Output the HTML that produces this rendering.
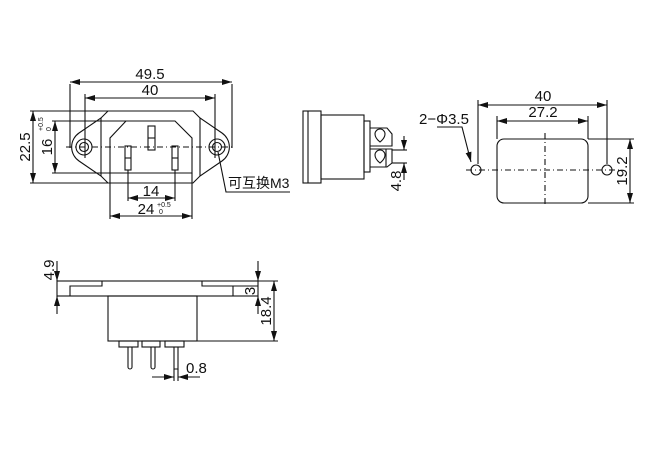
<!DOCTYPE html>
<html><head><meta charset="utf-8"><style>
html,body{margin:0;padding:0;background:#fff;}
svg{display:block;}
text{font-family:"Liberation Sans","Noto Sans CJK SC",sans-serif;fill:#111;}
</style></head><body>
<svg width="660" height="450" viewBox="0 0 660 450" xmlns="http://www.w3.org/2000/svg">
<defs>
<marker id="a" viewBox="0 0 10 6" refX="10" refY="3" markerWidth="10" markerHeight="6" orient="auto-start-reverse" markerUnits="userSpaceOnUse"><path d="M0,0 L10,3 L0,6 z" fill="#111"/></marker>
</defs>
<g stroke="#111" stroke-width="1.1" fill="none">
<path d="M108,111 L193,111 L200,118 L222,133 A17,17 0 0 1 222,161 L200,176 L193,183 L108,183 L101,176 L79,161 A17,17 0 0 1 79,133 L101,118 Z"/>
<line x1="101" y1="118" x2="101" y2="176"/><line x1="200" y1="118" x2="200" y2="176"/>
<path d="M126,121 L175,121 L192,138 L192,173 L110,173 L110,138 Z"/>
<circle cx="84" cy="147" r="8"/><circle cx="84" cy="147" r="4.5"/>
<circle cx="217" cy="147" r="8"/><circle cx="217" cy="147" r="4.5"/>
<line x1="66" y1="147" x2="234" y2="147" stroke-dasharray="6,3,1,3"/>
<rect x="148" y="126" width="7" height="24"/><line x1="148" y1="138" x2="155" y2="138"/>
<rect x="125" y="146" width="6" height="24"/><line x1="125" y1="158" x2="131" y2="158"/>
<rect x="172" y="146" width="6" height="24"/><line x1="172" y1="158" x2="178" y2="158"/>
<line x1="70" y1="84" x2="70" y2="148"/><line x1="232" y1="84" x2="232" y2="148"/>
<line x1="70" y1="82" x2="232" y2="82" marker-start="url(#a)" marker-end="url(#a)"/>
<line x1="85" y1="94" x2="85" y2="158"/><line x1="215" y1="94" x2="215" y2="158"/>
<line x1="85" y1="98" x2="215" y2="98" marker-start="url(#a)" marker-end="url(#a)"/>
<line x1="30" y1="111" x2="108" y2="111"/><line x1="30" y1="183" x2="108" y2="183"/>
<line x1="33" y1="111" x2="33" y2="183" marker-start="url(#a)" marker-end="url(#a)"/>
<line x1="52" y1="121" x2="126" y2="121"/><line x1="52" y1="173" x2="110" y2="173"/>
<line x1="55" y1="121" x2="55" y2="173" marker-start="url(#a)" marker-end="url(#a)"/>
<line x1="128" y1="170" x2="128" y2="201"/><line x1="175" y1="170" x2="175" y2="201"/>
<line x1="128" y1="198" x2="175" y2="198" marker-start="url(#a)" marker-end="url(#a)"/>
<line x1="110" y1="173" x2="110" y2="219"/><line x1="192" y1="173" x2="192" y2="219"/>
<line x1="110" y1="216" x2="192" y2="216" marker-start="url(#a)" marker-end="url(#a)"/>
<polyline points="218,152 226,192 290,192"/>
<rect x="303" y="111" width="18" height="72"/><line x1="308" y1="111" x2="308" y2="183"/>
<rect x="321" y="115" width="43" height="64"/>
<rect x="364" y="121" width="6" height="51"/>
<path d="M370,128 L387,128 L392,134 L392,146 L370,146"/>
<path d="M370,149 L392,149 L392,163 L387,167 L370,167"/>
<line x1="386" y1="149" x2="386" y2="167"/>
<path d="M375,134 a5,5 0 0 1 10,0 q0,4 -5,8 q-5,-4 -5,-8z"/>
<path d="M375,155 a5,5 0 0 1 10,0 q0,4 -5,8 q-5,-4 -5,-8z"/>
<line x1="392" y1="150" x2="407" y2="150"/><line x1="392" y1="163" x2="407" y2="163"/>
<line x1="404" y1="136" x2="404" y2="150" marker-end="url(#a)"/>
<line x1="404" y1="180" x2="404" y2="163" marker-end="url(#a)"/>
<rect x="497" y="139" width="91" height="64" rx="7"/>
<line x1="545" y1="133" x2="545" y2="207" stroke-dasharray="6,3,1,3"/>
<line x1="466" y1="170" x2="622" y2="170" stroke-dasharray="6,3,1,3"/>
<circle cx="476" cy="170" r="5"/><circle cx="607" cy="170" r="5"/>
<line x1="478" y1="100" x2="478" y2="164"/><line x1="607" y1="100" x2="607" y2="164"/>
<line x1="478" y1="105" x2="607" y2="105" marker-start="url(#a)" marker-end="url(#a)"/>
<line x1="497" y1="116" x2="497" y2="139"/><line x1="588" y1="116" x2="588" y2="139"/>
<line x1="497" y1="121" x2="588" y2="121" marker-start="url(#a)" marker-end="url(#a)"/>
<line x1="588" y1="139" x2="634" y2="139"/><line x1="588" y1="203" x2="634" y2="203"/>
<line x1="630" y1="139" x2="630" y2="203" marker-start="url(#a)" marker-end="url(#a)"/>
<polyline points="437,127 462,127 471,162" marker-end="url(#a)"/>
<rect x="57" y="281" width="201" height="15"/>
<polyline points="70,296 70,286 102,286 102,281"/>
<polyline points="202,281 202,286 258,286"/>
<line x1="233" y1="286" x2="233" y2="296"/>
<rect x="108" y="296" width="89" height="45"/>
<rect x="119" y="341" width="19" height="6"/><rect x="142" y="341" width="18" height="6"/><rect x="165" y="341" width="19" height="6"/>
<path d="M128,347 L128,367 A2,2 0 0 0 132,367 L132,347"/>
<path d="M151,347 L151,367 A2,2 0 0 0 155,367 L155,347"/>
<path d="M174,347 L174,369 L178,369 L178,347"/>
<line x1="57" y1="261" x2="57" y2="281" marker-end="url(#a)"/>
<line x1="57" y1="314" x2="57" y2="296" marker-end="url(#a)"/>
<line x1="258" y1="261" x2="258" y2="281" marker-end="url(#a)"/>
<line x1="258" y1="314" x2="258" y2="296" marker-end="url(#a)"/>
<line x1="258" y1="281" x2="278" y2="281"/><line x1="197" y1="341" x2="278" y2="341"/>
<line x1="274" y1="281" x2="274" y2="341" marker-start="url(#a)" marker-end="url(#a)"/>
<line x1="174" y1="369" x2="174" y2="381"/><line x1="178" y1="369" x2="178" y2="381"/>
<line x1="152" y1="377" x2="174" y2="377" marker-end="url(#a)"/>
<line x1="200" y1="377" x2="178" y2="377" marker-end="url(#a)"/>
</g>
<g font-size="15">
<text x="150" y="79" text-anchor="middle">49.5</text>
<text x="150" y="95" text-anchor="middle">40</text>
<text x="151" y="196" text-anchor="middle">14</text>
<text x="146" y="214" text-anchor="middle">24</text>
<text x="157" y="207" font-size="7">+0.5</text><text x="159" y="214" font-size="7">0</text>
<text transform="translate(30,147) rotate(-90)" text-anchor="middle">22.5</text>
<text transform="translate(52,147) rotate(-90)" text-anchor="middle">16</text>
<text transform="translate(43,131) rotate(-90)" font-size="7">+0.5</text>
<text transform="translate(51,131) rotate(-90)" font-size="7">0</text>
<text x="228" y="188" font-size="14">可互换M3</text>
<text transform="translate(401,181) rotate(-90)" text-anchor="middle">4.8</text>
<text x="419" y="124">2−Φ3.5</text>
<text x="543" y="101" text-anchor="middle">40</text>
<text x="543" y="117" text-anchor="middle">27.2</text>
<text transform="translate(627,171) rotate(-90)" text-anchor="middle">19.2</text>
<text transform="translate(54,270) rotate(-90)" text-anchor="middle">4.9</text>
<text transform="translate(255,291) rotate(-90)" text-anchor="middle">3</text>
<text transform="translate(271,311) rotate(-90)" text-anchor="middle">18.4</text>
<text x="186" y="373">0.8</text>
</g>
</svg>
</body></html>
